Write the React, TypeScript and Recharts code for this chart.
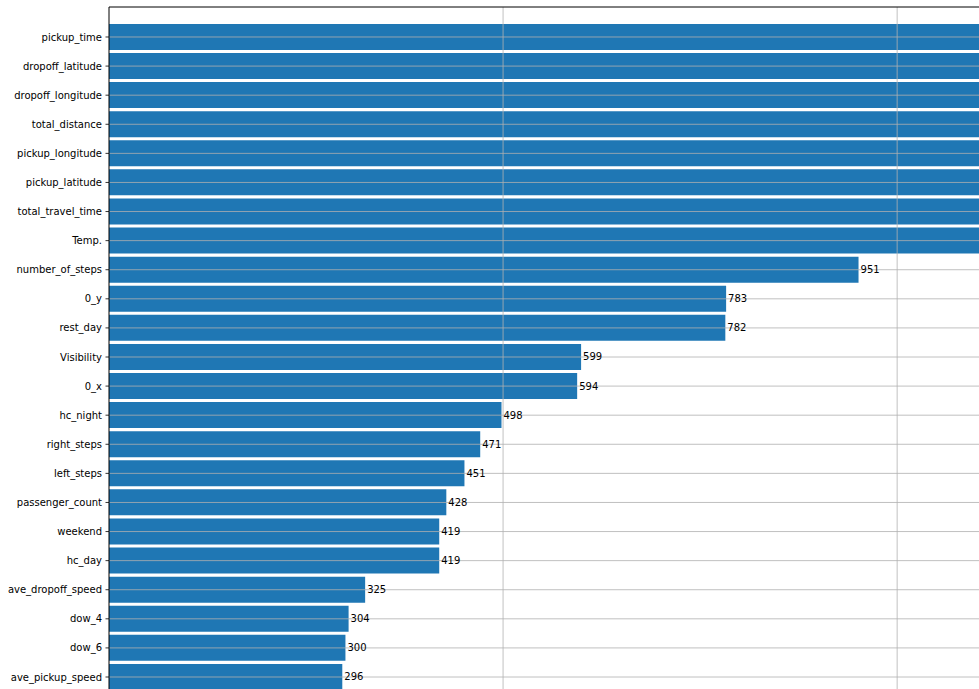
import React from "react";
import { BarChart, Bar, XAxis, YAxis, ReferenceLine, LabelList } from "recharts";

const features: string[] = [
  "pickup_time",
  "dropoff_latitude",
  "dropoff_longitude",
  "total_distance",
  "pickup_longitude",
  "pickup_latitude",
  "total_travel_time",
  "Temp.",
  "number_of_steps",
  "0_y",
  "rest_day",
  "Visibility",
  "0_x",
  "hc_night",
  "right_steps",
  "left_steps",
  "passenger_count",
  "weekend",
  "hc_day",
  "ave_dropoff_speed",
  "dow_4",
  "dow_6",
  "ave_pickup_speed",
];

// top eight values run past the visible crop; estimated
const importance: number[] = [
  2500, 2350, 2250, 2150, 2050, 1950, 1800, 1400,
  951, 783, 782, 599, 594, 498, 471, 451, 428, 419, 419, 325, 304, 300, 296,
];

const xTicks: number[] = [0, 500, 1000, 1500, 2000, 2500];
const xMax = 2700;

const data = features.map((name, i) => ({ name, value: importance[i] }));

const PX_PER_UNIT = 0.788;
const Y_AXIS_W = 109;
const PLOT_W = xMax * PX_PER_UNIT;
const CHART_W = Math.round(Y_AXIS_W + PLOT_W + 10);
const BAND = 29.09;
const PAD = 15.45;
const PLOT_H = features.length * BAND + 2 * PAD;
const TOP = 7;
const CHART_H = Math.round(TOP + PLOT_H + 20);

const BLUE = "#1f77b4";
const GRID = "#b0b0b0";

export default function App() {
  return (
    <div
      style={{
        position: "fixed",
        left: 0,
        top: 0,
        width: 979,
        height: 689,
        overflow: "hidden",
        background: "#fff",
      }}
    >
      <BarChart
        width={CHART_W}
        height={CHART_H}
        data={data}
        layout="vertical"
        margin={{ top: TOP - 1, right: 10, bottom: 20, left: 0 }}
        barCategoryGap="5%"
        style={{ fontFamily: "DejaVu Sans" }}
      >
        <XAxis type="number" domain={[0, xMax]} ticks={xTicks} hide />
        <XAxis
          xAxisId="top"
          orientation="top"
          type="number"
          domain={[0, xMax]}
          height={1}
          tick={false}
          tickLine={false}
          axisLine={{ stroke: "#000", strokeWidth: 1 }}
        />
        <YAxis
          type="category"
          dataKey="name"
          width={Y_AXIS_W}
          padding={{ top: PAD, bottom: PAD }}
          tickSize={3.5}
          tickMargin={3.5}
          interval={0}
          tick={{ fontSize: 10, fill: "#000" }}
          axisLine={{ stroke: "#000", strokeWidth: 1 }}
          tickLine={{ stroke: "#000", strokeWidth: 0.8 }}
        />
        <Bar dataKey="value" fill={BLUE} isAnimationActive={false}>
          <LabelList
            dataKey="value"
            position="right"
            offset={2}
            style={{ fontSize: 10, fill: "#000" }}
          />
        </Bar>
        {features.map((f) => (
          <ReferenceLine key={"h" + f} y={f} stroke={GRID} strokeWidth={0.8} />
        ))}
        {xTicks
          .filter((t) => t > 0)
          .map((t) => (
            <ReferenceLine key={"v" + t} x={t} stroke={GRID} strokeWidth={0.8} />
          ))}
      </BarChart>
    </div>
  );
}
